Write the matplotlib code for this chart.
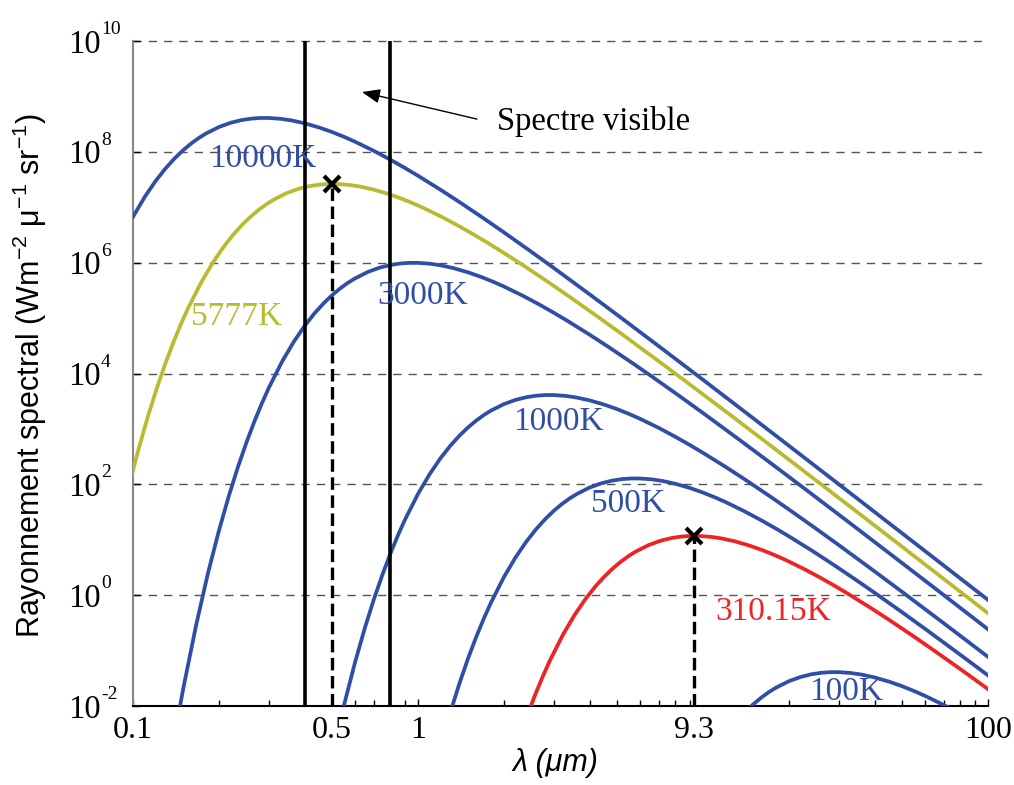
import matplotlib
matplotlib.use("Agg")
import matplotlib.pyplot as plt
import matplotlib.transforms as mtransforms
from matplotlib.ticker import FixedLocator, NullFormatter, NullLocator

# ---------------- data ----------------
wl_10000 = [0.1, 0.11, 0.12, 0.13, 0.14, 0.15, 0.16, 0.17, 0.18, 0.2, 0.22, 0.24, 0.26, 0.28, 0.3,
            0.33, 0.36, 0.4, 0.45, 0.5, 0.55, 0.6, 0.7, 0.8, 0.9, 1.0, 1.2, 1.4, 1.7, 2, 2.5, 3, 4,
            5, 7, 10, 15, 20, 30, 50, 70, 100]
B_10000 = [6.72e6, 1.543e7, 2.970e7, 5.006e7, 7.62e7, 1.071e8, 1.413e8, 1.772e8, 2.130e8, 2.798e8,
           3.343e8, 3.735e8, 3.976e8, 4.085e8, 4.084e8, 3.938e8, 3.687e8, 3.276e8, 2.750e8, 2.272e8,
           1.866e8, 1.531e8, 1.041e8, 7.21e7, 5.11e7, 3.703e7, 2.066e7, 1.234e7, 6.30e6, 3.534e6,
           1.568e6, 7.97e5, 2.685e5, 1.143e5, 3.105e4, 7.70e3, 1.558e3, 499, 99.8, 13.05, 3.41,
           0.822]

wl_5777 = [0.0952, 0.1039, 0.1125, 0.1212, 0.1298, 0.1385, 0.1471, 0.1558, 0.1731, 0.1904, 0.2077,
           0.2250, 0.2423, 0.2597, 0.2770, 0.2943, 0.3116, 0.3462, 0.3808, 0.4154, 0.4501, 0.4847,
           0.5193, 0.5712, 0.6232, 0.6924, 0.7790, 0.8655, 0.9521, 1.0386, 1.2117, 1.3848, 1.5579,
           1.731, 2.077, 2.423, 2.943, 3.462, 4.328, 5.193, 6.924, 8.655, 12.12, 17.31, 25.97,
           34.62, 51.93, 86.55, 121.2]
B_5777 = [66.3, 379.5, 1.610e3, 5.40e3, 1.504e4, 3.615e4, 7.69e4, 1.481e5, 4.32e5, 9.93e5, 1.911e6,
          3.221e6, 4.905e6, 6.89e6, 9.09e6, 1.140e7, 1.370e7, 1.800e7, 2.151e7, 2.404e7, 2.558e7,
          2.628e7, 2.628e7, 2.533e7, 2.372e7, 2.108e7, 1.769e7, 1.461e7, 1.201e7, 9.85e6, 6.70e6,
          4.64e6, 3.289e6, 2.383e6, 1.329e6, 7.94e5, 4.055e5, 2.275e5, 1.009e5, 5.13e4, 1.728e4,
          7.35e3, 1.998e3, 495, 100.2, 32.1, 6.42, 0.840, 0.2196]

wl_3000 = [0.14, 0.15, 0.1667, 0.1833, 0.2, 0.2167, 0.2333, 0.25, 0.2667, 0.2833, 0.3, 0.3333,
           0.3667, 0.4, 0.4333, 0.4667, 0.5, 0.5333, 0.5667, 0.6, 0.6667, 0.7333, 0.8, 0.8667,
           0.9333, 1.0, 1.1, 1.2, 1.3333, 1.5, 1.6667, 1.8333, 2.0, 2.3333, 2.6667, 3.0, 3.3333,
           4.0, 4.6667, 5.6667, 6.6667, 8.3333, 10, 13.333, 16.667, 23.333, 33.333, 50, 66.667, 100]
B_3000 = [0.00293, 0.0204, 0.2945, 2.502, 14.33, 60.8, 203.9, 568, 1.366e3, 2.905e3, 5.59e3,
          1.633e4, 3.749e4, 7.22e4, 1.217e5, 1.852e5, 2.602e5, 3.432e5, 4.306e5, 5.17e5, 6.80e5,
          8.12e5, 9.08e5, 9.66e5, 9.93e5, 9.92e5, 9.57e5, 8.96e5, 7.96e5, 6.68e5, 5.52e5, 4.535e5,
          3.722e5, 2.529e5, 1.752e5, 1.242e5, 9.00e4, 5.02e4, 3.000e4, 1.531e4, 8.59e3, 3.81e3,
          1.936e3, 652, 277.6, 75.4, 18.7, 3.785, 1.213, 0.2424]

wl_1000 = [0.5, 0.55, 0.6, 0.65, 0.7, 0.75, 0.8, 0.85, 0.9, 1.0, 1.1, 1.2, 1.3, 1.4, 1.5, 1.6, 1.7,
           1.8, 2.0, 2.2, 2.4, 2.6, 2.8, 3.0, 3.3, 3.6, 4.0, 4.5, 5.0, 5.5, 6, 7, 8, 9, 10, 12, 14,
           17, 20, 25, 30, 40, 50, 70, 100]
B_1000 = [0.00121, 0.0103, 0.0590, 0.2502, 0.839, 2.338, 5.62, 11.95, 23.0, 67.2, 154.3, 297, 500.6,
          762, 1071, 1413, 1772, 2130, 2798, 3343, 3735, 3976, 4085, 4084, 3938, 3687, 3276, 2750,
          2272, 1866, 1531, 1041, 721, 511, 370, 206.6, 123.4, 63.0, 35.3, 15.67, 7.97, 2.685,
          1.143, 0.3105, 0.0770]

wl_500 = [1.2, 1.3, 1.4, 1.5, 1.6, 1.7, 1.8, 2.0, 2.2, 2.4, 2.6, 2.8, 3.0, 3.2, 3.4, 3.6, 4.0, 4.4,
          4.8, 5.2, 5.6, 6.0, 6.6, 7.2, 8.0, 9.0, 10, 11, 12, 14, 16, 18, 20, 24, 28, 34, 40, 50,
          60, 80, 100]
B_500 = [0.00184, 0.00782, 0.02623, 0.0731, 0.1757, 0.3736, 0.7192, 2.100, 4.82, 9.28, 15.65, 23.8,
         33.5, 44.2, 55.4, 66.5, 87.5, 104.5, 116.7, 124.3, 127.7, 127.6, 123.1, 115.2, 102.4, 85.9,
         71.0, 58.3, 47.9, 32.5, 22.5, 15.97, 11.57, 6.46, 3.857, 1.970, 1.105, 0.490, 0.2490,
         0.0839, 0.0357]

wl_310 = [2.257, 2.418, 2.579, 2.741, 2.902, 3.224, 3.547, 3.869, 4.191, 4.514, 4.836, 5.159, 5.481,
          5.804, 6.448, 7.093, 7.738, 8.383, 9.028, 9.673, 10.64, 11.61, 12.90, 14.51, 16.12,
          17.73, 19.35, 22.57, 25.79, 29.02, 32.24, 38.69, 45.14, 54.81, 64.48, 80.61, 96.73, 129.0]
B_310 = [0.00241, 0.00671, 0.01613, 0.0343, 0.0660, 0.1929, 0.4428, 0.852, 1.437, 2.188, 3.074,
         4.054, 5.085, 6.11, 8.03, 9.59, 10.72, 11.41, 11.73, 11.72, 11.30, 10.58, 9.40, 7.89, 6.52,
         5.36, 4.395, 2.987, 2.070, 1.467, 1.063, 0.593, 0.354, 0.1809, 0.1014, 0.0450, 0.02286,
         0.0077]

wl_100 = [13, 14, 15, 16, 17, 18, 20, 22, 24, 26, 28, 30, 33, 36, 40, 45, 50, 55, 60, 70, 80]
B_100 = [0.0050, 0.00762, 0.01071, 0.01413, 0.01772, 0.02130, 0.02798, 0.03343, 0.03735, 0.03976,
         0.04085, 0.04084, 0.03938, 0.03687, 0.03276, 0.02750, 0.02272, 0.01866, 0.01531, 0.01041,
         0.00721]

curve_labels = ["10000K", "5777K", "3000K", "1000K", "500K", "310.15K", "100K"]
label_x = [0.286, 0.230, 1.04, 3.10, 5.46, 17.7, 31.8]
label_y = [5.32e7, 7.5e4, 1.79e5, 955, 31.7, 0.356, 0.0128]

visible_edges = [0.4, 0.8]
peak_x = [0.5, 9.3]
peak_y = [2.63e7, 11.7]

x_ticks = [0.1, 0.5, 1, 9.3, 100]
x_ticklabels = ["0.1", "0.5", "1", "9.3", "100"]
y_exponents = [-2, 0, 2, 4, 6, 8, 10]

# ---------------- style ----------------
BLUE = "#2f4fa6"
OLIVE = "#b8bb30"
RED = "#ee2424"

plt.rcParams["font.family"] = ["Liberation Serif", "DejaVu Serif"]
plt.rcParams["mathtext.fontset"] = "custom"
plt.rcParams["mathtext.rm"] = "Liberation Serif"
plt.rcParams["mathtext.it"] = "Liberation Serif:italic"
plt.rcParams["lines.scale_dashes"] = False

fig = plt.figure(figsize=(10.14, 7.85), dpi=100)
ax = fig.add_axes([133 / 1014, 1 - 706 / 785, (988 - 133) / 1014, (706 - 41) / 785])
ax.set_xscale("log")
ax.set_yscale("log")
ax.set_xlim(0.1, 100)
ax.set_ylim(1e-2, 1e10)

# grid lines
for e in y_exponents[1:]:
    ax.axhline(10.0 ** e, color="#555555", lw=1.0, dashes=(6, 5), zorder=1, clip_on=False)

series = [(wl_10000, B_10000, BLUE), (wl_5777, B_5777, OLIVE), (wl_3000, B_3000, BLUE),
          (wl_1000, B_1000, BLUE), (wl_500, B_500, BLUE), (wl_310, B_310, RED),
          (wl_100, B_100, BLUE)]
for wl, B, c in series:
    ax.plot(wl, B, color=c, lw=2.7, zorder=3, solid_joinstyle="round")

for xv in visible_edges:
    ax.plot([xv, xv], [1e-2, 1e10], color="black", lw=2.6, zorder=4, solid_capstyle="butt")

for xv, yv in zip(peak_x, peak_y):
    ax.plot([xv, xv], [1e-2, yv], color="black", lw=2.4, dashes=(9, 4), zorder=4)
    ax.plot([xv], [yv], marker="x", ms=12, mew=3, color="black", zorder=5, clip_on=False)

label_colors = [BLUE, OLIVE, BLUE, BLUE, BLUE, RED, BLUE]
for s, xv, yv, c in zip(curve_labels, label_x, label_y, label_colors):
    ax.text(xv, yv, s, color=c, fontsize=24, ha="center", va="baseline", zorder=6)

ax.annotate("", xy=(0.636, 1.2e9), xytext=(1.61, 3.9e8),
            arrowprops=dict(arrowstyle="-|>,head_length=0.55,head_width=0.22",
                            mutation_scale=20, color="black", lw=1.0, shrinkA=0, shrinkB=0))
ax.text(1.89, 2.47e8, "Spectre visible", fontsize=23.5, ha="left", va="baseline")

# axes / ticks
for side in ("top", "right"):
    ax.spines[side].set_visible(False)
ax.spines["left"].set_color("#888888")
ax.spines["left"].set_linewidth(1.5)
ax.spines["bottom"].set_color("black")
ax.spines["bottom"].set_linewidth(1.5)

ax.set_xticks(x_ticks, labels=x_ticklabels)
ax.xaxis.set_minor_locator(FixedLocator(
    [m * 10.0 ** d for d in (-1, 0, 1) for m in range(2, 10)]))
ax.xaxis.set_minor_formatter(NullFormatter())
ax.set_yticks([10.0 ** e for e in y_exponents], labels=[""] * len(y_exponents))
ax.yaxis.set_minor_locator(NullLocator())

ax.tick_params(axis="both", which="both", direction="in", color="black", width=1.0)
ax.tick_params(axis="x", which="major", length=5, labelsize=23, pad=7)
ax.tick_params(axis="x", which="minor", length=4)
ax.tick_params(axis="y", which="major", length=5)

# y tick labels: "10" with a small raised exponent
ytrans = ax.get_yaxis_transform()
base_tr = mtransforms.offset_copy(ytrans, fig=fig, x=0, y=-8.3, units="points")
exp_tr = mtransforms.offset_copy(ytrans, fig=fig, x=0, y=5.0, units="points")
x_base = (68 - 133) / 855
x_exp = (101 - 133) / 855
for e in y_exponents:
    ax.text(x_base, 10.0 ** e, "10", transform=base_tr, fontsize=23.5, ha="left",
            va="baseline", clip_on=False)
    ax.text(x_exp, 10.0 ** e, str(e), transform=exp_tr, fontsize=14,
            ha="left", va="baseline", clip_on=False)

fig.text(30 / 1014, 1 - 376 / 785,
         r"Rayonnement spectral (Wm$\mathregular{^{-2}}$ $\mathregular{\mu^{-1}}$ sr$\mathregular{^{-1}}$)",
         family=["Liberation Sans", "DejaVu Sans"], fontsize=22, rotation=90,
         ha="center", va="center")
fig.text(555 / 1014, 1 - 763 / 785, "λ (μm)", family=["Liberation Sans", "DejaVu Sans"],
         style="italic", fontsize=22, ha="center", va="center")

fig.savefig("out.png", dpi=100)
